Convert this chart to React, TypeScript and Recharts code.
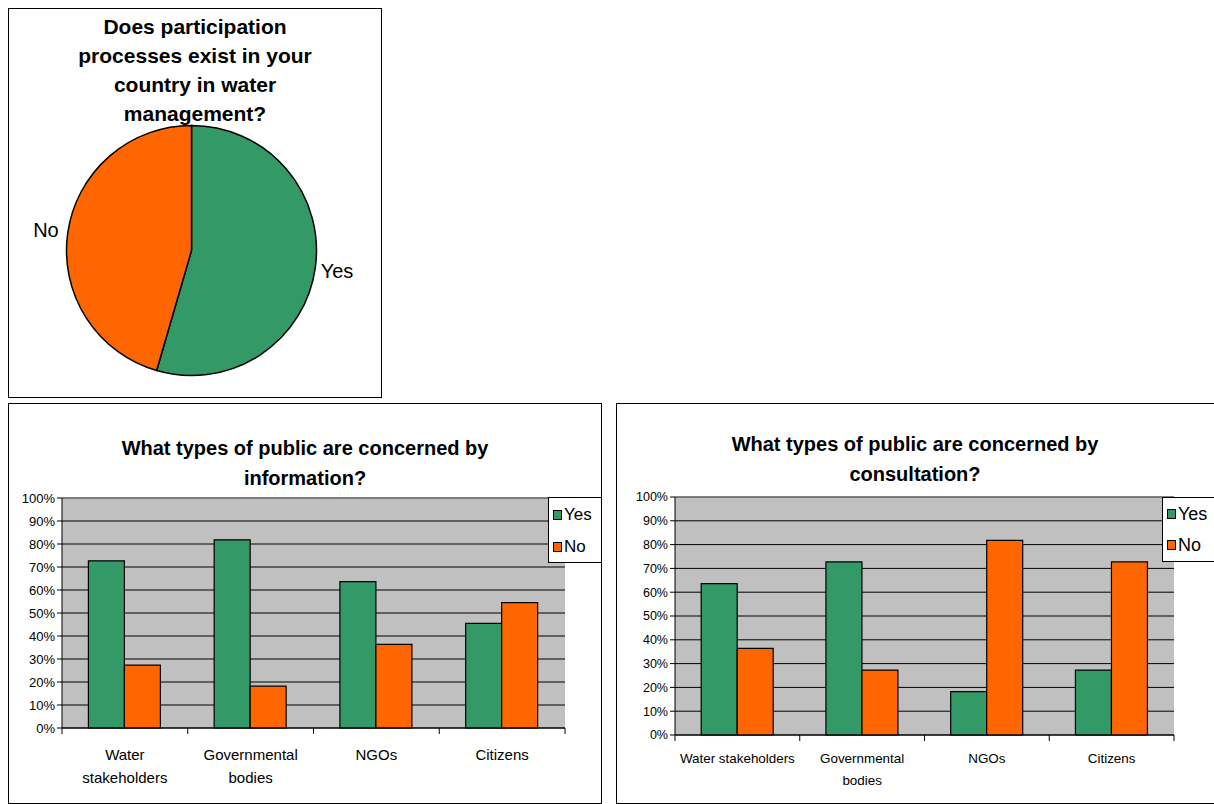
import React from 'react';
import { PieChart, Pie, Cell, BarChart, Bar, XAxis, YAxis, CartesianGrid, ReferenceLine, Text } from 'recharts';

const FONT = '"Liberation Sans", Arial, Helvetica, sans-serif';

// ---------- data ----------
const pieCategories = ['Yes', 'No'];
const pieValues = [54.5, 45.5];
const pieTitleLines = ['Does participation', 'processes exist in your', 'country in water', 'management?'];

const barCategories = ['Water stakeholders', 'Governmental bodies', 'NGOs', 'Citizens'];
const seriesNames = ['Yes', 'No'];
const infoYes = [72.7, 81.8, 63.6, 45.5];
const infoNo = [27.3, 18.2, 36.4, 54.5];
const consultYes = [63.6, 72.7, 18.2, 27.3];
const consultNo = [36.4, 27.3, 81.8, 72.7];
const percentTicks = [0, 10, 20, 30, 40, 50, 60, 70, 80, 90, 100];
const infoTitleLines = ['What types of public are concerned by', 'information?'];
const consultTitleLines = ['What types of public are concerned by', 'consultation?'];

const GREEN = '#339966';
const ORANGE = '#FF6600';
const PLOT_BG = '#C0C0C0';
const seriesColors = [GREEN, ORANGE];

const renderPieLabel = (p: any) => {
  const RAD = Math.PI / 180;
  const r = p.outerRadius + 22;
  const x = p.cx + r * Math.cos(-p.midAngle * RAD);
  const y = p.cy + r * Math.sin(-p.midAngle * RAD);
  const name = p.payload?.name ?? p.name;
  return (
    <text x={x} y={y} textAnchor="middle" dominantBaseline="central" fontSize={20} fontFamily={FONT} fill="#000">
      {name}
    </text>
  );
};

const CatTick = (props: any) => {
  const { x, y, payload, index, fontSize, wrap, dy, lineHeight, count, half } = props;
  const off = payload?.offset ?? half;
  return (
    <g>
      <line x1={x - off} x2={x - off} y1={y} y2={y + 6} stroke="#000" strokeWidth={1} />
      {index === count - 1 && <line x1={x + off} x2={x + off} y1={y} y2={y + 6} stroke="#000" strokeWidth={1} />}
      <Text
        x={x}
        y={y + dy}
        width={wrap}
        textAnchor="middle"
        verticalAnchor="start"
        fontSize={fontSize}
        fontFamily={FONT}
        fill="#000"
        lineHeight={lineHeight}
      >
        {payload.value}
      </Text>
    </g>
  );
};

type PanelProps = {
  left: number; top: number; width: number; height: number;
  boxWidth: number;
  titleLines: string[]; titleTop: number;
  yes: number[]; no: number[];
  margin: { top: number; right: number; bottom: number; left: number };
  yAxisWidth: number; xAxisHeight: number;
  tickFont: number; catFont: number; catWrap: number; catDy: number; catLineHeight: number;
  legend: { left: number; top: number; width: number; height: number; rows: number[]; font: number };
};

const BarPanel = (p: PanelProps) => {
  const data = barCategories.map((c, i) => ({ name: c, yes: p.yes[i], no: p.no[i] }));
  const plotW = p.width - p.margin.left - p.margin.right - p.yAxisWidth;
  const half = plotW / barCategories.length / 2;
  return (
    <>
      <div style={{ position: 'absolute', left: p.left, top: p.top, width: p.boxWidth, height: p.height, border: '1px solid #000', boxSizing: 'border-box', background: '#fff' }} />
      <div style={{ position: 'absolute', left: p.left, top: p.titleTop, width: Math.min(p.boxWidth, 598), textAlign: 'center', fontFamily: FONT, fontWeight: 'bold', fontSize: 20, lineHeight: '30px', color: '#000' }}>
        {p.titleLines.map((l, i) => <div key={i}>{l}</div>)}
      </div>
      <div style={{ position: 'absolute', left: p.left, top: p.top }}>
        <BarChart width={p.width} height={p.height} data={data} margin={p.margin} barCategoryGap="21%" barGap={0}>
          <CartesianGrid vertical={false} horizontal stroke="#000" fill={PLOT_BG} />
          <ReferenceLine y={100} stroke="#808080" strokeWidth={1.5} />
          <XAxis
            dataKey="name"
            height={p.xAxisHeight}
            axisLine={{ stroke: '#000' }}
            tickLine={false}
            tickSize={0}
            tickMargin={0}
            interval={0}
            tick={(tp: any) => (
              <CatTick {...tp} fontSize={p.catFont} wrap={p.catWrap} dy={p.catDy} lineHeight={p.catLineHeight} count={barCategories.length} half={half} />
            )}
          />
          <YAxis
            width={p.yAxisWidth}
            domain={[0, 100]}
            ticks={percentTicks}
            interval={0}
            tickFormatter={(v: number) => `${v}%`}
            axisLine={{ stroke: '#000' }}
            tickLine={{ stroke: '#000' }}
            tickSize={5}
            tickMargin={2}
            tick={{ fill: '#000', fontSize: p.tickFont, fontFamily: FONT }}
          />
          <Bar dataKey="yes" name={seriesNames[0]} fill={GREEN} stroke="#000" strokeWidth={1.2} isAnimationActive={false} />
          <Bar dataKey="no" name={seriesNames[1]} fill={ORANGE} stroke="#000" strokeWidth={1.2} isAnimationActive={false} />
        </BarChart>
      </div>
      <div style={{ position: 'absolute', left: p.legend.left, top: p.legend.top, width: p.legend.width, height: p.legend.height, border: '1px solid #000', boxSizing: 'border-box', background: '#fff' }} />
      {seriesNames.map((s, i) => (
        <div key={s} style={{ position: 'absolute', left: p.legend.left + 5, top: p.legend.rows[i] - 11, height: 22, display: 'flex', alignItems: 'center', fontFamily: FONT, fontSize: p.legend.font, color: '#000' }}>
          <span style={{ display: 'inline-block', width: 7, height: 8, background: seriesColors[i], border: '1px solid #000', marginRight: 2 }} />
          <span>{s}</span>
        </div>
      ))}
    </>
  );
};

export default function App() {
  const pieData = pieCategories.map((c, i) => ({ name: c, value: pieValues[i] }));
  return (
    <div style={{ position: 'absolute', left: 0, top: 0, width: 1214, height: 804, overflow: 'hidden', background: '#fff' }}>
      {/* Pie panel */}
      <div style={{ position: 'absolute', left: 8, top: 8, width: 374, height: 390, border: '1px solid #000', boxSizing: 'border-box' }} />
      <div style={{ position: 'absolute', left: 8, top: 12, width: 374, textAlign: 'center', fontFamily: FONT, fontWeight: 'bold', fontSize: 21, lineHeight: '29px', color: '#000' }}>
        {pieTitleLines.map((l, i) => <div key={i}>{l}</div>)}
      </div>
      <div style={{ position: 'absolute', left: 8, top: 8 }}>
        <PieChart width={374} height={390} margin={{ top: 0, right: 0, bottom: 0, left: 0 }}>
          <Pie
            data={pieData}
            dataKey="value"
            nameKey="name"
            cx={183.5}
            cy={242.5}
            outerRadius={125}
            startAngle={90}
            endAngle={-270}
            stroke="#000"
            strokeWidth={1.5}
            label={renderPieLabel}
            labelLine={false}
            isAnimationActive={false}
          >
            {pieData.map((d, i) => <Cell key={d.name} fill={seriesColors[i]} />)}
          </Pie>
        </PieChart>
      </div>

      <BarPanel
        left={8} top={403} width={593} height={401} boxWidth={594}
        titleLines={infoTitleLines} titleTop={433}
        yes={infoYes} no={infoNo}
        margin={{ top: 95, right: 36, bottom: 0, left: 0 }}
        yAxisWidth={54} xAxisHeight={76}
        tickFont={13} catFont={15} catWrap={110} catDy={21} catLineHeight={23}
        legend={{ left: 548, top: 497, width: 54, height: 66, rows: [515, 547], font: 17 }}
      />
      <BarPanel
        left={616} top={403} width={604} height={401} boxWidth={604}
        titleLines={consultTitleLines} titleTop={429}
        yes={consultYes} no={consultNo}
        margin={{ top: 94, right: 46, bottom: 0, left: 0 }}
        yAxisWidth={59} xAxisHeight={69}
        tickFont={12.5} catFont={13.4} catWrap={122} catDy={18} catLineHeight={22}
        legend={{ left: 1162, top: 497, width: 60, height: 65, rows: [514, 545], font: 18 }}
      />
    </div>
  );
}
